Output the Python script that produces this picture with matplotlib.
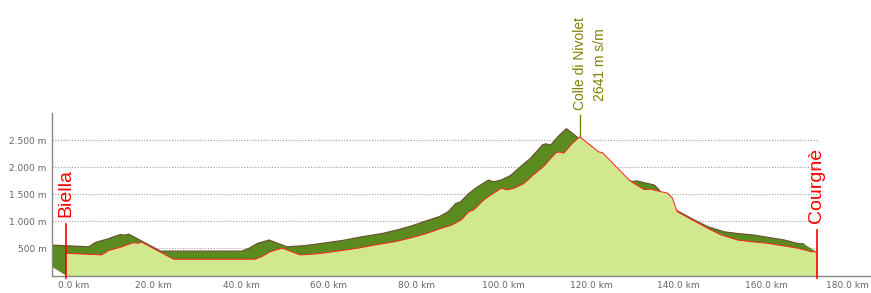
import matplotlib
matplotlib.use("Agg")
from matplotlib import pyplot as plt
from matplotlib.ticker import FuncFormatter
from matplotlib.transforms import ScaledTranslation

# Route profile (km, metres above sea level)
km = [0, 8.2, 9.7, 12.8, 13.9, 15.4, 16.5, 17.3, 24.6, 43.2, 44.8, 46.7, 49.4,
      53.5, 57.4, 61.2, 66.5, 70.7, 75.3, 79.1, 82.2, 85.2, 88.3, 90.4, 92.1,
      93.2, 95.1, 96.6, 99.5, 100.8, 102.4, 104.6, 106.9, 109.2, 111.9, 112.6,
      113.8, 115.7, 117.4, 121.8, 122.6, 128.7, 129.9, 132.2, 133.6, 135.3,
      137.5, 138.6, 139.7, 143.5, 146.6, 149.7, 153.5, 156.5, 160.3, 164.1,
      167.2, 170.3, 171.6]
elev = [410, 380, 460, 530, 565, 605, 595, 615, 300, 300, 350, 440, 505,
        380, 400, 440, 500, 565, 625, 700, 770, 855, 935, 1030, 1180,
        1210, 1365, 1460, 1610, 1580, 1610, 1695, 1860, 2015, 2260, 2280,
        2260, 2435, 2560, 2280, 2270, 1765, 1695, 1585, 1595, 1560,
        1520, 1430, 1180, 1010, 875, 750, 655, 625, 595, 545,
        505, 440, 435]

start_name = "Biella"
end_name = "Courgnè"
pass_name = "Colle di Nivolet"
pass_label = "2641 m s/m"
pass_km = 117.4

x_ticks = [0, 20, 40, 60, 80, 100, 120, 140, 160, 180]
y_ticks = [500, 1000, 1500, 2000, 2500]

# 3D offset of the shaded "side" of the profile
dx, dy = -3.0, 150

fig = plt.figure(figsize=(8.71, 2.93), dpi=100)
ax = fig.add_axes([52 / 871, 17.5 / 293, 819 / 871, 162.5 / 293])
ax.set_xlim(-3.2, 184)
ax.set_ylim(0, 3000)

# Dotted gridlines up to the end of the route
for y in y_ticks:
    ax.plot([-3.2, km[-1]], [y, y], color="#a0a0a0", linestyle=(0, (1, 1.5)),
            linewidth=0.8, zorder=1)

# Dark shifted profile
sx = [k + dx for k in km]
sy = [e + dy for e in elev]
dark_x = [km[0], sx[0]] + sx + [km[-1], km[-1]]
dark_y = [0, dy] + sy + [elev[-1], 0]
ax.fill(dark_x, dark_y, color="#5b8a1f", zorder=2, linewidth=0)
ax.plot(sx, sy, color="#6b5530", linewidth=0.9, zorder=2)

# Light real profile
ax.fill([km[0]] + km + [km[-1]], [0] + elev + [0], color="#d2e88e",
        zorder=3, linewidth=0)
ax.plot(km, elev, color="#ff2020", linewidth=0.7, zorder=4)

# Start / end markers
ax.plot([km[0], km[0]], [-40, 950], color="#ff0000", linewidth=1.2, zorder=5,
        clip_on=False)
ax.text(km[0], 1080, start_name, rotation=90, color="#ff0000", fontsize=14,
        family="Liberation Sans", ha="center", va="bottom", zorder=6)
ax.plot([km[-1], km[-1]], [-40, 840], color="#ff0000", linewidth=1.2, zorder=5,
        clip_on=False)
ax.text(km[-1], 970, end_name, rotation=90, color="#ff0000", fontsize=14,
        family="Liberation Sans", ha="center", va="bottom", zorder=6)

# Summit marker
peak = max(elev)
ax.plot([pass_km, pass_km], [peak, 2960], color="#808000", linewidth=1.0,
        zorder=5, clip_on=False)
ax.text(pass_km, 3060, pass_name, rotation=90, color="#808000", fontsize=10,
        family="Liberation Sans", ha="center", va="bottom", clip_on=False)
ax.text(pass_km + 4.7, 3230, pass_label, rotation=90, color="#808000",
        fontsize=10, family="Liberation Sans", ha="center", va="bottom",
        clip_on=False)

# Axes styling
for side in ["top", "right"]:
    ax.spines[side].set_visible(False)
for side in ["left", "bottom"]:
    ax.spines[side].set_color("#888888")
    ax.spines[side].set_linewidth(1.0)

ax.set_xticks(x_ticks)
ax.set_yticks(y_ticks)
ax.xaxis.set_major_formatter(FuncFormatter(lambda v, p: "%.1f km" % v))
ax.yaxis.set_major_formatter(
    FuncFormatter(lambda v, p: "{:,} m".format(int(v)).replace(",", ".")))
ax.tick_params(length=0, labelsize=6.5, labelcolor="#666666", pad=4)

# Keep first and last x labels inside the chart area
labels = ax.get_xticklabels()
labels[0].set_transform(labels[0].get_transform()
                        + ScaledTranslation(8 / 100, 0, fig.dpi_scale_trans))
labels[-1].set_transform(labels[-1].get_transform()
                         + ScaledTranslation(-6 / 100, 0, fig.dpi_scale_trans))

fig.savefig("out.png", dpi=100)
